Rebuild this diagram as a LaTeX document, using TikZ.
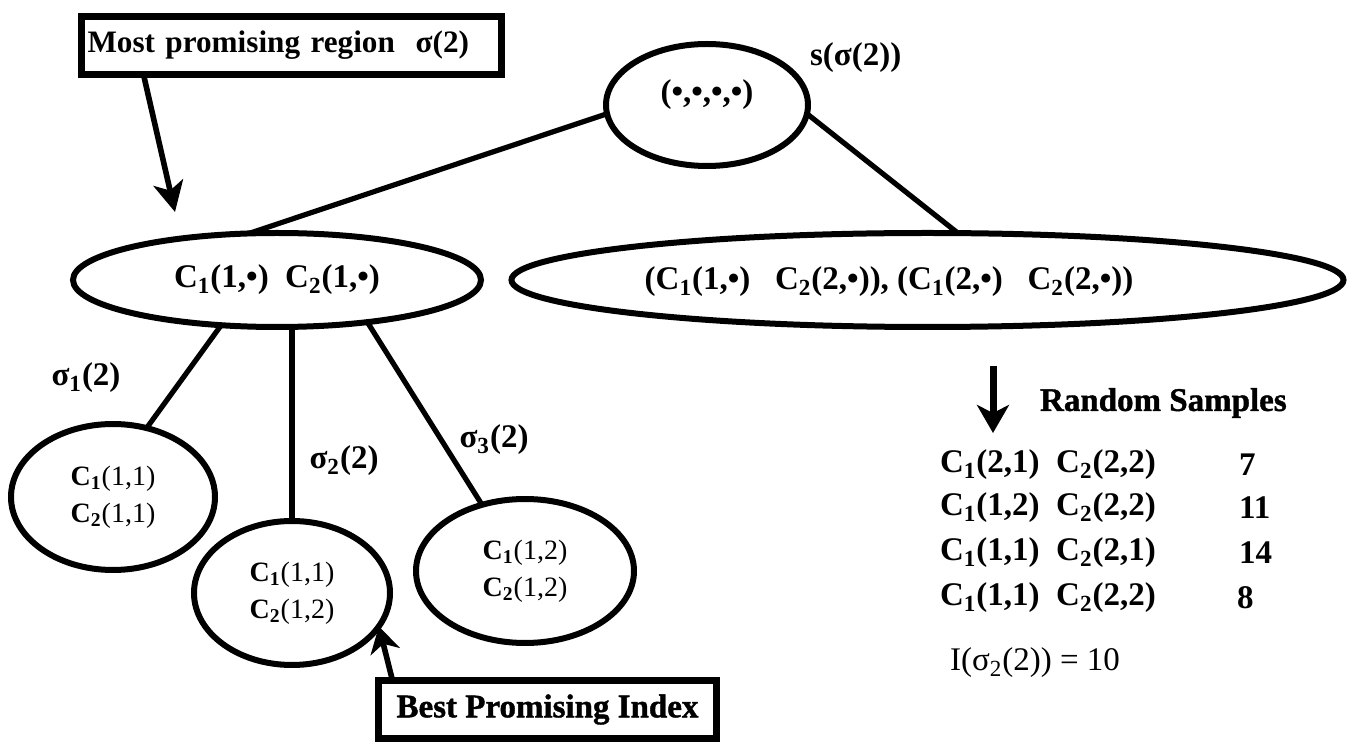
\documentclass[tikz,border=0pt]{standalone}
\usepackage{fontspec}
\setmainfont{Liberation Serif}
\newfontfamily\heavyfont[BoldFeatures={FakeBold=1.2}]{Liberation Serif}
\usetikzlibrary{arrows.meta,shapes.geometric}
\newcommand\Cs[1]{C\textsubscript{#1}}
\newcommand\Cb[1]{\textbf{C}\textsubscript{\textbf{#1}}}
\begin{document}
\begin{tikzpicture}[x=0.5pt,y=-0.5pt,
  ell/.style={draw,ellipse,line width=3pt,inner sep=0pt,outer sep=0pt},
  box/.style={draw,rectangle,line width=3.5pt,inner sep=0pt,outer sep=0pt},
  con/.style={line width=2.6pt},
  arr/.style={line width=2.8pt,-{Stealth[length=15pt,width=15pt,inset=4pt]}},
  big/.style={font=\fontsize{16.5}{19}\selectfont\bfseries},
  heavy/.style={font=\fontsize{16.5}{19}\selectfont\heavyfont\bfseries},
  small/.style={font=\fontsize{14}{18.5}\selectfont,align=center},
]
\useasboundingbox (0,0) rectangle (1357,748);

% boxes
\node[box,font=\fontsize{15.6}{18}\selectfont\bfseries,minimum width=210pt,minimum height=29pt,text width=204pt,
      inner xsep=3pt,align=left] (mp) at (291.5,45.5) {Most promising region\ \ σ(2)};
\node[box,heavy,minimum width=169pt,minimum height=29pt] (bp) at (547.5,709.5) {Best Promising Index};

% tree
\node[ell,minimum width=101pt,minimum height=61pt] (root) at (707,105) {};
\node[big] (roott) at (707,95) {(•,•,•,•)};
\node[big,anchor=west] (sroot) at (803,58) {s(σ(2))};

\node[ell,big,minimum width=204pt,minimum height=47pt] (l) at (277,280)
  {\Cs{1}(1,•)\ \ \Cs{2}(1,•)};
\node[ell,minimum width=416pt,minimum height=47pt] (r) at (927.5,280) {};
\node[big] (rt) at (889,282)
  {(\Cs{1}(1,•)\ \ \ \Cs{2}(2,•)), (\Cs{1}(2,•)\ \ \ \Cs{2}(2,•))};

\node[ell,small,minimum width=102pt,minimum height=73pt] (c1) at (113,497)
  {\Cb{1}(1,1)\\\Cb{2}(1,1)};
\node[ell,small,minimum width=98pt,minimum height=72pt] (c2) at (292,593)
  {\Cb{1}(1,1)\\\Cb{2}(1,2)};
\node[ell,small,minimum width=109pt,minimum height=72pt] (c3) at (525,571)
  {\Cb{1}(1,2)\\\Cb{2}(1,2)};

\node[big] (s1) at (86,378) {σ\textsubscript{1}(2)};
\node[big] (s2) at (344,461) {σ\textsubscript{2}(2)};
\node[big] (s3) at (494,440) {σ\textsubscript{3}(2)};

\draw[con] (root.185) -- (l.121);
\draw[con] (root.-5) -- (r.57.5);
\draw[con] (l.-141) -- (c1.64);
\draw[con] (c2.north) -- (c2.north |- l.south);
\draw[con] (l.-25) -- (c3.123);

% arrows
\coordinate (tipA) at (175,212);
\draw[arr] ([xshift=31pt]mp.south west) -- (tipA);
\draw[line width=2.8pt,-{Stealth[length=13pt,width=15pt,inset=4pt]}]
  ([xshift=7pt]bp.north west) -- (c2.-21);

% random samples
\coordinate (ra) at (993,366);
\coordinate (rb) at (993,433);
\draw[line width=3.5pt,-{Stealth[length=14pt,width=16pt,inset=4pt]}] (ra) -- (rb);
\node[heavy,anchor=west] (rs) at (1033,403) {Random Samples};
\node[big,anchor=west] (row1) at (933,465) {\Cs{1}(2,1)\ \ \Cs{2}(2,2)};
\node[big,anchor=west] (row2) at (933,508) {\Cs{1}(1,2)\ \ \Cs{2}(2,2)};
\node[big,anchor=west] (row3) at (933,553) {\Cs{1}(1,1)\ \ \Cs{2}(2,1)};
\node[big,anchor=west] (row4) at (933,598) {\Cs{1}(1,1)\ \ \Cs{2}(2,2)};
\node[big,anchor=west] (n1) at (1232,465) {7};
\node[big,anchor=west] (n2) at (1232,508) {11};
\node[big,anchor=west] (n3) at (1232,553) {14};
\node[big,anchor=west] (n4) at (1230,598) {8};
\node[font=\fontsize{16.5}{19}\selectfont,anchor=west] (idx) at (943,663)
  {I(σ\textsubscript{2}(2)) = 10};
\end{tikzpicture}
\end{document}
